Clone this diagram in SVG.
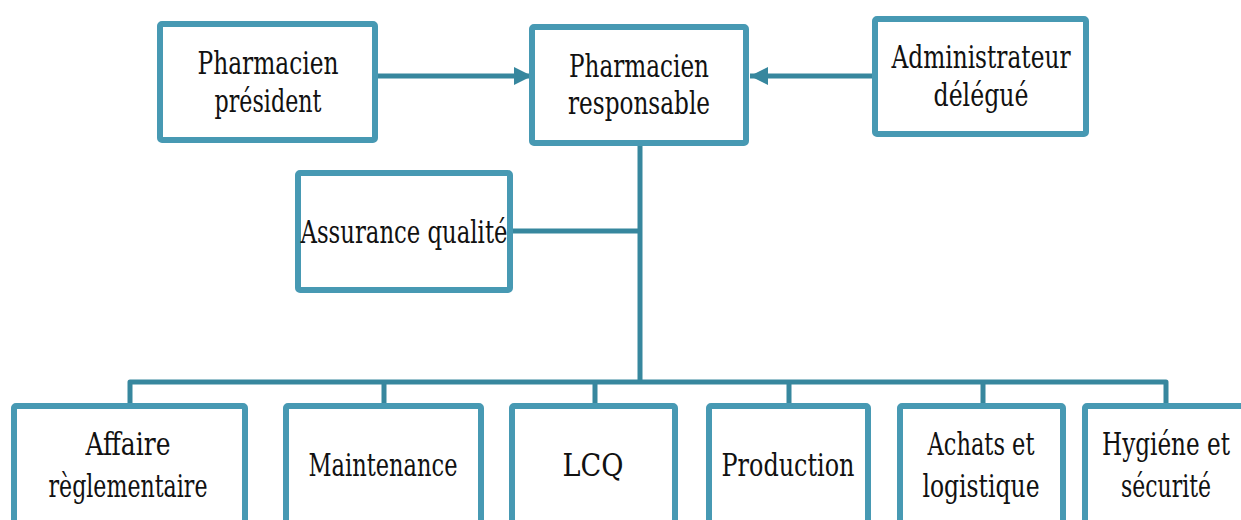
<svg xmlns="http://www.w3.org/2000/svg" width="1241" height="520" viewBox="0 0 1241 520">
<style>
.box{fill:#fff;stroke:#4799b3;stroke-width:6}
.con{fill:none;stroke:#37879e;stroke-width:5;stroke-linejoin:round}
.t{font-family:"DejaVu Serif Condensed","DejaVu Serif",serif;font-size:31px;fill:#111;text-anchor:middle}
</style>
<defs>
<marker id="ah" markerUnits="userSpaceOnUse" markerWidth="18" markerHeight="20" viewBox="0 0 18 20" refX="18" refY="10" orient="auto">
<path d="M0,1 L18,10 L0,19 Z" fill="#37879e"/>
</marker>
</defs>
<rect width="1241" height="520" fill="#fff"/>
<g id="connectors">
<path class="con" d="M378,76 H532" marker-end="url(#ah)"/>
<path class="con" d="M872,76 H750" marker-end="url(#ah)"/>
<path class="con" d="M640,146 V382"/>
<path class="con" d="M513,231 H640"/>
<path class="con" d="M130,406 V382 H1166 V406"/>
<path class="con" d="M384,382 V406 M595,382 V406 M789,382 V406 M983,382 V406"/>
</g>
<g id="n-president">
<rect class="box" x="160" y="24" width="215" height="116" rx="2"/>
<text class="t" x="268" y="74" textLength="141" lengthAdjust="spacingAndGlyphs">Pharmacien</text>
<text class="t" x="268" y="112" textLength="107" lengthAdjust="spacingAndGlyphs">président</text>
</g>
<g id="n-responsable">
<rect class="box" x="532" y="27" width="214" height="116" rx="2"/>
<text class="t" x="639" y="77" textLength="140" lengthAdjust="spacingAndGlyphs">Pharmacien</text>
<text class="t" x="639" y="114" textLength="142" lengthAdjust="spacingAndGlyphs">responsable</text>
</g>
<g id="n-admin">
<rect class="box" x="875" y="19" width="211" height="115" rx="2"/>
<text class="t" x="981" y="68" textLength="179" lengthAdjust="spacingAndGlyphs">Administrateur</text>
<text class="t" x="981" y="106" textLength="95" lengthAdjust="spacingAndGlyphs">délégué</text>
</g>
<g id="n-assurance">
<rect class="box" x="298" y="173" width="212" height="117" rx="2"/>
<text class="t" x="404" y="243" textLength="207" lengthAdjust="spacingAndGlyphs">Assurance qualité</text>
</g>
<g id="n-affaire">
<rect class="box" x="14" y="406" width="231" height="130" rx="2"/>
<text class="t" x="128" y="455" textLength="85" lengthAdjust="spacingAndGlyphs">Affaire</text>
<text class="t" x="128" y="497" textLength="159" lengthAdjust="spacingAndGlyphs">règlementaire</text>
</g>
<g id="n-maintenance">
<rect class="box" x="286" y="406" width="195" height="130" rx="2"/>
<text class="t" x="383" y="476" textLength="149" lengthAdjust="spacingAndGlyphs">Maintenance</text>
</g>
<g id="n-lcq">
<rect class="box" x="512" y="406" width="163" height="130" rx="2"/>
<text class="t" x="593" y="476" textLength="61" lengthAdjust="spacingAndGlyphs">LCQ</text>
</g>
<g id="n-production">
<rect class="box" x="709" y="406" width="159" height="130" rx="2"/>
<text class="t" x="788" y="476" textLength="133" lengthAdjust="spacingAndGlyphs">Production</text>
</g>
<g id="n-achats">
<rect class="box" x="900" y="406" width="163" height="130" rx="2"/>
<text class="t" x="981" y="455" textLength="107" lengthAdjust="spacingAndGlyphs">Achats et</text>
<text class="t" x="981" y="497" textLength="117" lengthAdjust="spacingAndGlyphs">logistique</text>
</g>
<g id="n-hygiene">
<rect class="box" x="1085" y="406" width="170" height="130" rx="2"/>
<text class="t" x="1166" y="455" textLength="128" lengthAdjust="spacingAndGlyphs">Hygiéne et</text>
<text class="t" x="1166" y="497" textLength="90" lengthAdjust="spacingAndGlyphs">sécurité</text>
</g>
</svg>
